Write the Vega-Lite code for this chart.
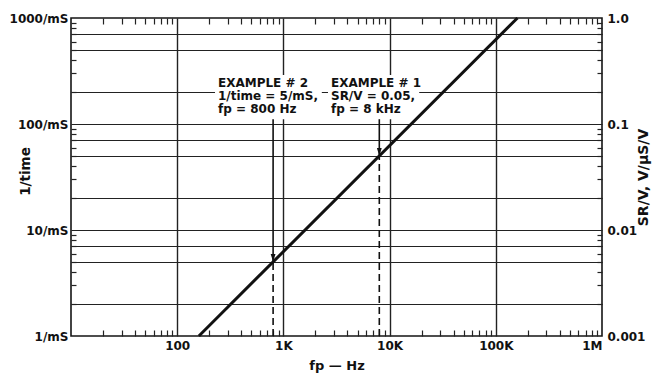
{
  "$schema": "https://vega.github.io/schema/vega-lite/v6.json",
  "width": 531,
  "height": 318,
  "autosize": {"type": "none"},
  "padding": {"left": 71, "top": 18, "right": 55, "bottom": 38},
  "background": "white",
  "config": {
    "font": "DejaVu Sans",
    "view": {"stroke": "#151515", "strokeWidth": 1.6},
    "axis": {
      "labelFont": "DejaVu Sans", "labelFontWeight": "bold", "labelFontSize": 12, "labelColor": "#111",
      "titleFont": "DejaVu Sans", "titleFontWeight": "bold", "titleFontSize": 13, "titleColor": "#111",
      "tickColor": "#222", "tickWidth": 1.2, "gridColor": "#222", "gridWidth": 1.2, "gridOpacity": 1
    }
  },
  "datasets": {
    "boxes": [
      {"x1": 227, "x2": 2300, "y1": 111, "y2": 290},
      {"x1": 2630, "x2": 19000, "y1": 111, "y2": 290}
    ],
    "line": [{"fp": 160, "t": 1}, {"fp": 160000, "t": 1000}],
    "dashes": [{"fp": 800, "t1": 1, "t2": 5}, {"fp": 8000, "t1": 1, "t2": 50}],
    "arrows": [{"fp": 800, "t1": 5, "t2": 111}, {"fp": 8000, "t1": 50, "t2": 111}],
    "heads": [{"fp": 800, "t": 5}, {"fp": 8000, "t": 50}],
    "notes": [
      {"fp": 242, "t": 246, "label": "EXAMPLE # 2"},
      {"fp": 242, "t": 184, "label": "1/time = 5/mS,"},
      {"fp": 242, "t": 140, "label": "fp = 800 Hz"},
      {"fp": 2806, "t": 246, "label": "EXAMPLE # 1"},
      {"fp": 2806, "t": 184, "label": "SR/V = 0.05,"},
      {"fp": 2806, "t": 140, "label": "fp = 8 kHz"}
    ]
  },
  "resolve": {"axis": {"x": "independent", "y": "independent"}},
  "layer": [
    {
      "data": {"name": "boxes"},
      "mark": {"type": "rect", "fill": "white", "stroke": null},
      "encoding": {
        "x": {"field": "x1", "type": "quantitative",
          "scale": {"type": "log", "domain": [10, 1000000], "nice": false},
          "axis": {"orient": "bottom", "grid": true, "values": [100, 1000, 10000, 100000], "domain": false, "ticks": false, "labels": false, "title": null, "gridWidth": 1.4}},
        "x2": {"field": "x2"},
        "y": {"field": "y1", "type": "quantitative",
          "scale": {"type": "log", "domain": [1, 1000], "nice": false},
          "axis": {"orient": "left", "grid": true, "values": [2, 5, 7, 10, 20, 50, 70, 100, 200, 500, 700], "domain": false, "ticks": false, "labels": false, "title": null}},
        "y2": {"field": "y2"}
      }
    },
    {
      "data": {"name": "line"},
      "mark": {"type": "line", "color": "#111", "strokeWidth": 3},
      "encoding": {
        "x": {"field": "fp", "type": "quantitative",
          "scale": {"type": "log", "domain": [10, 1000000], "nice": false},
          "axis": {"orient": "bottom", "values": [100, 1000, 10000, 100000, 1000000], "grid": false, "ticks": false, "domain": false, "labelPadding": 4,
            "labelExpr": "datum.value >= 1000000 ? '1M' : datum.value >= 1000 ? (round(datum.value / 1000) + 'K') : (round(datum.value) + '')",
            "title": "fp — Hz", "titlePadding": 8}},
        "y": {"field": "t", "type": "quantitative",
          "scale": {"type": "log", "domain": [1, 1000], "nice": false},
          "axis": {"orient": "left", "values": [1, 10, 100, 1000], "grid": false, "ticks": false, "domain": false, "labelPadding": 3, "labelFlush": false,
            "labelExpr": "round(datum.value) + '/mS'", "title": "1/time",
            "titleX": -46, "titleY": 153, "titleAngle": 270, "titleAlign": "center", "titleBaseline": "middle", "titleFontSize": 13.5}}
      }
    },
    {
      "data": {"name": "dashes"},
      "mark": {"type": "rule", "color": "#111", "strokeWidth": 1.6, "strokeDash": [7, 4]},
      "encoding": {
        "x": {"field": "fp", "type": "quantitative",
          "axis": {"orient": "bottom", "values": [20, 30, 40, 50, 60, 70, 80, 90, 200, 300, 400, 500, 600, 700, 800, 900, 2000, 3000, 4000, 5000, 6000, 7000, 8000, 9000, 20000, 30000, 40000, 50000, 60000, 70000, 80000, 90000, 200000, 300000, 400000, 500000, 600000, 700000, 800000, 900000],
            "grid": false, "ticks": true, "tickSize": -6, "labels": false, "domain": false, "title": null}},
        "y": {"field": "t1", "type": "quantitative",
          "axis": {"orient": "left", "values": [2, 3, 4, 5, 6, 7, 8, 9, 20, 30, 40, 50, 60, 70, 80, 90, 200, 300, 400, 500, 600, 700, 800, 900],
            "grid": false, "ticks": true, "tickSize": -5, "labels": false, "domain": false, "title": null}},
        "y2": {"field": "t2"}
      }
    },
    {
      "data": {"name": "arrows"},
      "mark": {"type": "rule", "color": "#111", "strokeWidth": 1.6},
      "encoding": {
        "x": {"field": "fp", "type": "quantitative",
          "axis": {"orient": "top", "values": [20, 30, 40, 50, 60, 70, 80, 90, 200, 300, 400, 500, 600, 700, 800, 900, 2000, 3000, 4000, 5000, 6000, 7000, 8000, 9000, 20000, 30000, 40000, 50000, 60000, 70000, 80000, 90000, 200000, 300000, 400000, 500000, 600000, 700000, 800000, 900000],
            "grid": false, "ticks": true, "tickSize": -6, "labels": false, "domain": false, "title": null}},
        "y": {"field": "t1", "type": "quantitative",
          "axis": {"orient": "right", "values": [2, 3, 4, 5, 6, 7, 8, 9, 20, 30, 40, 50, 60, 70, 80, 90, 200, 300, 400, 500, 600, 700, 800, 900],
            "grid": false, "ticks": true, "tickSize": -5, "labels": false, "domain": false, "title": null}},
        "y2": {"field": "t2"}
      }
    },
    {
      "data": {"name": "heads"},
      "mark": {"type": "point", "shape": "M0,0L-0.6,-2L0.6,-2Z", "size": 64, "filled": true, "color": "#111", "opacity": 1},
      "encoding": {
        "x": {"field": "fp", "type": "quantitative", "axis": null},
        "y": {"field": "t", "type": "quantitative",
          "axis": {"orient": "right", "values": [1, 10, 100, 1000], "grid": false, "ticks": false, "domain": false, "labelPadding": 5, "labelFlush": false,
            "labelExpr": "datum.value >= 1000 ? '1.0' : datum.value >= 100 ? '0.1' : datum.value >= 10 ? '0.01' : '0.001'",
            "title": "SR/V, V/µS/V", "titleAngle": 270, "titlePadding": 6, "titleFontSize": 14}}
      }
    },
    {
      "data": {"name": "notes"},
      "mark": {"type": "text", "align": "left", "baseline": "middle", "font": "DejaVu Sans", "fontWeight": "bold", "fontSize": 12, "color": "#111"},
      "encoding": {
        "x": {"field": "fp", "type": "quantitative", "axis": null},
        "y": {"field": "t", "type": "quantitative", "axis": null},
        "text": {"field": "label", "type": "nominal"}
      }
    }
  ]
}
